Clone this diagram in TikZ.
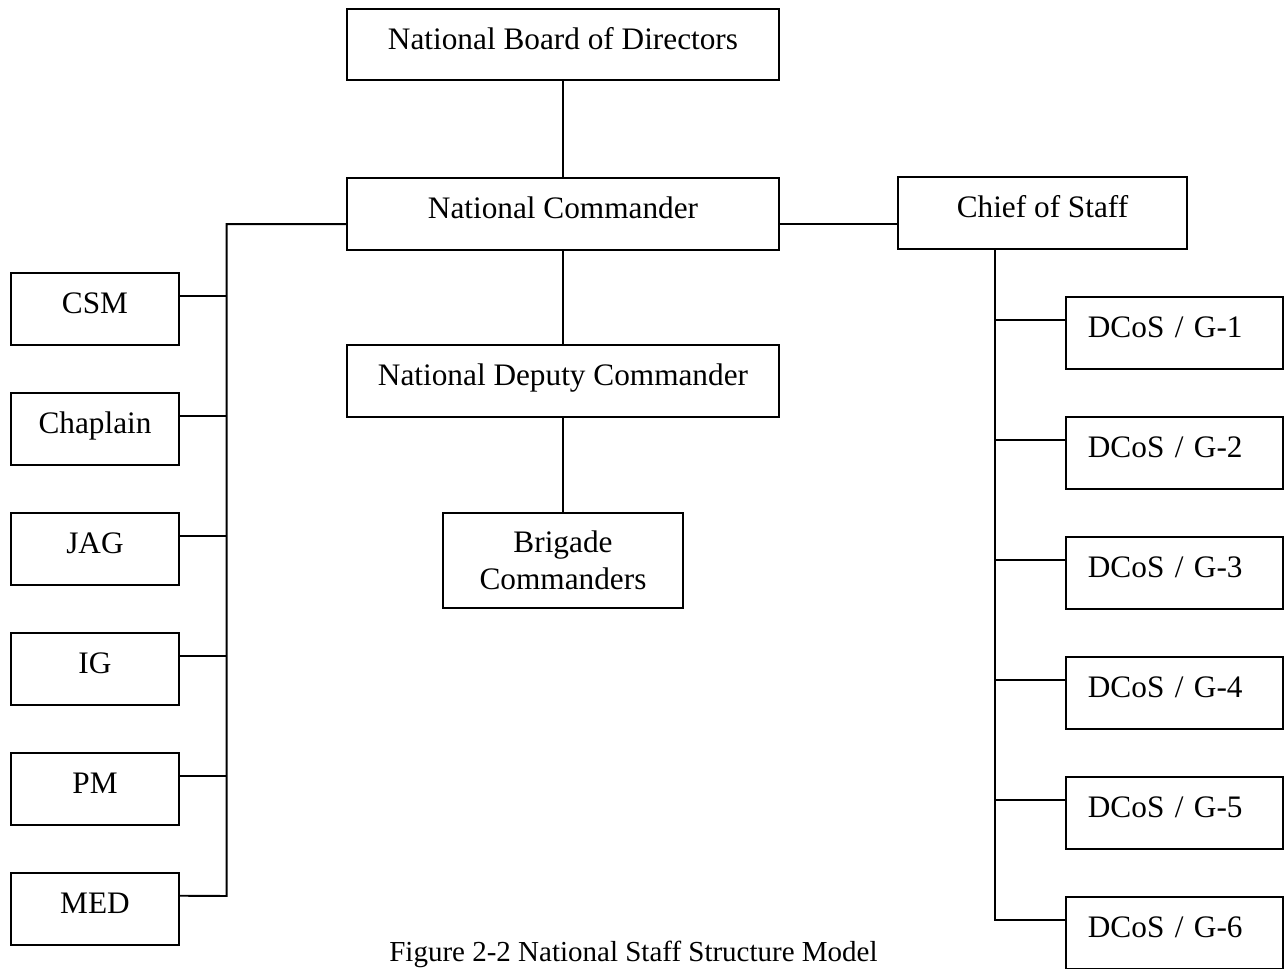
\documentclass[tikz,border=0pt]{standalone}
\usepackage{fontspec}
\setmainfont{Liberation Serif}
\usepackage{tikz}
\usetikzlibrary{positioning,calc}
\newcommand{\orgfont}{\fontsize{17.8}{20.9}\selectfont}
\newcommand{\capfont}{\fontsize{16.5}{19}\selectfont}

\begin{document}
\begin{tikzpicture}[
    line width=1.1pt,
    post/.style={draw, inner sep=0pt, align=center, font=\orgfont, minimum height=1.44cm},
    oneline/.style={text height=0.45cm, text depth=0.26cm},
    aide/.style={post, oneline, minimum width=3.37cm},
    gstaff/.style={post, oneline, text width=3.47cm, inner xsep=0.434cm, align=left}
]
\useasboundingbox (0,0) rectangle (25.72,-19.38);

% command line
\node[post, oneline, minimum width=8.64cm, minimum height=1.42cm] (board) at (11.26,-0.893) {National Board of Directors};
\node[post, oneline, minimum width=8.64cm] (natcmd) at (11.26,-4.284) {National Commander};
\node[post, oneline, minimum width=5.77cm, minimum height=1.45cm] (cos) at (20.85,-4.257) {Chief of Staff};
\node[post, oneline, minimum width=8.64cm] (deputy) at (11.26,-7.617) {National Deputy Commander};
\node[post, minimum width=4.8cm, minimum height=1.91cm] (brigade) at (11.26,-11.21) {Brigade\\Commanders};

% special staff (left)
\foreach \name/\txt [count=\i from 0] in {csm/CSM, chap/Chaplain, jag/JAG, ig/IG, pm/PM, med/MED} {
    \node[aide] (\name) at (1.9,{-6.174-2.4*\i}) {\txt};
    \coordinate (\name-in) at ([yshift=-0.48cm]\name.north east);
}

% coordinating staff (right)
\foreach \g in {1,...,6} {
    \node[gstaff] (g\g) at (23.493,{-6.654-2.4*(\g-1)}) {DCoS / G-\g};
    \coordinate (g\g-in) at ([yshift=-0.48cm]g\g.north west);
}

\node[anchor=base, font=\capfont] (caption) at (12.67,-19.23) {Figure 2-2 National Staff Structure Model};

\coordinate (ltier) at ([yshift=-0.2cm]natcmd.west);
\coordinate (rtier) at ([yshift=-0.2cm]natcmd.east);
\coordinate (lspine) at (4.534,-17.92);
\coordinate (rspine) at (19.9,-18.414);

\draw (board) -- (natcmd);
\draw (natcmd) -- (deputy);
\draw (deputy) -- (brigade);
\draw (rtier) -- (rtier -| cos.west);

\draw (ltier) -| (lspine) -- (med-in);
\foreach \name in {csm,chap,jag,ig,pm} {
    \draw (\name-in) -- (\name-in -| lspine);
}

\draw (rspine |- cos.south) |- (g6-in);
\foreach \g in {1,...,5} {
    \draw (g\g-in -| rspine) -- (g\g-in);
}
\end{tikzpicture}
\end{document}
